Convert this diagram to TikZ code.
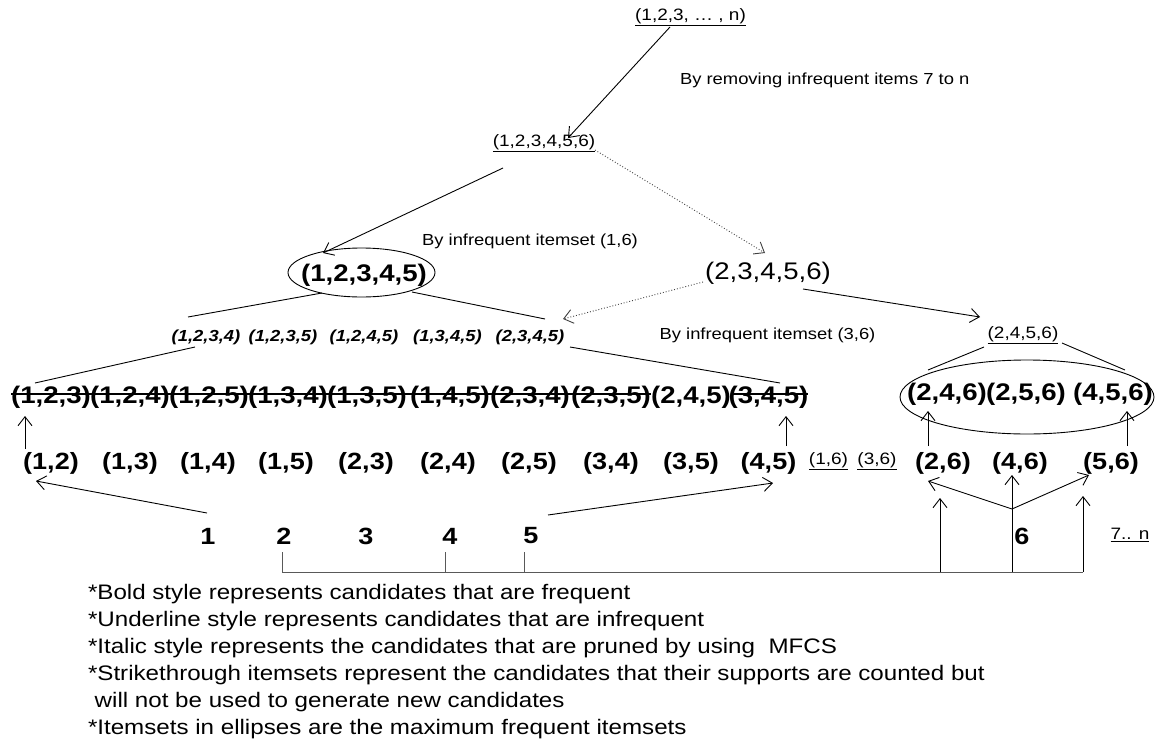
\documentclass[tikz,border=0pt]{standalone}
\usepackage{fontspec}
\setmainfont{Liberation Sans}[FakeStretch=1.15]
\usetikzlibrary{arrows.meta,calc,shapes.geometric}
\begin{document}
\begin{tikzpicture}[x=1pt,y=-1pt,
  every node/.style={inner sep=0pt,outer sep=0pt},
  big/.style={font=\fontsize{24}{28}\selectfont\bfseries},
  bigr/.style={font=\fontsize{24}{28}\selectfont},
  pair/.style={font=\fontsize{23.5}{28}\selectfont\bfseries},
  ital/.style={font=\fontsize{16}{20}\selectfont\bfseries\itshape},
  small/.style={font=\fontsize{16.5}{20}\selectfont},
  lbl/.style={font=\fontsize{16}{20}\selectfont},
  legend/.style={font=\fontsize{21}{24}\selectfont,anchor=west},
  conn/.style={line width=0.9pt},
  arr/.style={conn,-{Straight Barb[length=9pt,width=14pt]}},
  dotline/.style={line width=0.9pt,dotted,black!75},
  dotarr/.style={dotline,-{Straight Barb[length=9pt,width=14pt]}},
  strike/.style={line width=2pt},
  baseline/.style={line width=1pt,black!65},
  oval/.style={draw,ellipse,line width=0.9pt}
]
\useasboundingbox (0,0) rectangle (1163,742);

% top levels
\node[small] (topn) at (690.5,17) {\underline{(1,2,3, … , n)}};
\node[lbl,anchor=west] (rem) at (680,80) {By removing infrequent items 7 to n};
\node[small] (n6) at (544,143) {\underline{(1,2,3,4,5,6)}};
\node[oval,minimum width=147,minimum height=49] (e1) at (361.5,272.5) {};
\node[big] (n12345) at (364,275) {(1,2,3,4,5)};
\node[bigr] (n23456) at (768,273) {(2,3,4,5,6)};
\node[lbl] (lbl16) at (530,241) {By infrequent itemset (1,6)};
\node[lbl] (lbl36) at (767.5,335) {By infrequent itemset (3,6)};
\node[small] (n2456) at (1023,335) {\underline{(2,4,5,6)}};

% italic row
\node[ital] (i1234) at (206,337) {(1,2,3,4)};
\node[ital] (i1235) at (283,337) {(1,2,3,5)};
\node[ital] (i1245) at (364,337) {(1,2,4,5)};
\node[ital] (i1345) at (447.5,337) {(1,3,4,5)};
\node[ital] (i2345) at (530,337) {(2,3,4,5)};

% strikethrough row
\node[big] (s123) at (51,397) {(1,2,3)};
\node[big] (s124) at (130,397) {(1,2,4)};
\node[big] (s125) at (209,397) {(1,2,5)};
\node[big] (s134) at (288,397) {(1,3,4)};
\node[big] (s135) at (367,397) {(1,3,5)};
\node[big] (s145) at (450,397) {(1,4,5)};
\node[big] (s234) at (530,397) {(2,3,4)};
\node[big] (s235) at (611,397) {(2,3,5)};
\node[big] (s245) at (691,397) {(2,4,5)};
\node[big] (s345) at (768.5,397) {(3,4,5)};
\draw[strike] ($(s123.west)+(0,-3)$) -- ($(s235.east)+(0,-3)$);
\draw[strike] ($(s345.west)+(3,-3)$) -- ($(s345.east)+(0,-3)$);

% maximal ellipse right
\node[oval,minimum width=254,minimum height=74] (e2) at (1027,397) {};
\node[big] (t246) at (947,394) {(2,4,6)};
\node[big] (t256) at (1026,394) {(2,5,6)};
\node[big] (t456) at (1113,394) {(4,5,6)};

% pairs row
\node[pair] (p12) at (51,463) {(1,2)};
\node[pair] (p13) at (130,463) {(1,3)};
\node[pair] (p14) at (208,463) {(1,4)};
\node[pair] (p15) at (286,463) {(1,5)};
\node[pair] (p23) at (366,463) {(2,3)};
\node[pair] (p24) at (448,463) {(2,4)};
\node[pair] (p25) at (529,463) {(2,5)};
\node[pair] (p34) at (611,463) {(3,4)};
\node[pair] (p35) at (691,463) {(3,5)};
\node[pair] (p45) at (768.5,463) {(4,5)};
\node[small] (p16) at (828.5,461) {\underline{(1,6)}};
\node[small] (p36) at (877,461) {\underline{(3,6)}};
\node[pair] (p26) at (943,463) {(2,6)};
\node[pair] (p46) at (1020,463) {(4,6)};
\node[pair] (p56) at (1111,463) {(5,6)};

% single items
\node[pair] (d1) at (208,536) {1};
\node[pair] (d2) at (284,536) {2};
\node[pair] (d3) at (366,536) {3};
\node[pair] (d4) at (450,536) {4};
\node[pair] (d5) at (531,536) {5};
\node[pair] (d6) at (1022,536) {6};
\node[small] (d7) at (1130,535) {\underline{7.. n}};

% connectors top
\draw[arr] ($(topn)+(-20.5,10)$) -- ($(n6)+(24,-5)$);
\draw[arr] ($(n6)+(-41,25)$) -- ($(e1)+(-38.5,-19.5)$);
\draw[dotarr] ($(n6)+(51,7)$) -- ($(n23456)+(-3,-20)$);
\draw[dotarr] ($(n23456)+(-65,9)$) -- ($(i2345)+(33,-18)$);
\draw[arr] ($(n23456)+(35,16)$) -- ($(n2456)+(-43,-18)$);
\draw[conn] ($(e1)+(-39.5,20.5)$) -- ($(i1234)+(-18,-20)$);
\draw[conn] ($(e1)+(50.5,19.5)$) -- ($(i2345)+(15,-18)$);
\draw[conn] ($(i1234)+(-11,10)$) -- ($(s123)+(-16,-14)$);
\draw[conn] ($(i2345)+(40,10)$) -- ($(s345)+(11.5,-14)$);
\draw[conn] ($(n2456)+(-39,12)$) -- ($(e2)+(-99,-27)$);
\draw[conn] ($(n2456)+(39,8)$) -- ($(e2)+(98,-27)$);

% connectors pairs to triples
\draw[arr] ($(p12)+(-26,-14)$) -- ($(s123)+(-26,19)$);
\draw[arr] ($(p45)+(17.5,-17)$) -- ($(s345)+(17.5,19)$);
\draw[arr] ($(p26)+(-15,-17)$) -- ($(t246)+(-19,17)$);
\draw[arr] ($(p56)+(16,-17)$) -- ($(t456)+(14,17)$);

% items to pairs
\draw[arr] ($(d1)+(-1,-23)$) -- ($(p12)+(-15,18)$);
\draw[arr] ($(d5)+(17,-21)$) -- ($(p45)+(4.5,20)$);

% bracket
\coordinate (bL) at (282,572);
\coordinate (b4) at (445,572);
\coordinate (b5) at (524,572);
\coordinate (bA) at (940,572);
\coordinate (bB) at (1012,572);
\coordinate (bR) at (1083,572);
\coordinate (fork) at (1012,509);
\draw[baseline] ($(bL)+(0,-20)$) -- (bL) -- (bR);
\draw[baseline] ($(b4)+(0,-20)$) -- (b4);
\draw[baseline] ($(b5)+(0,-20)$) -- (b5);
\draw[arr] (bA) -- ($(p26)+(-3,35)$);
\draw[arr] (bB) -- ($(p46)+(-8,12)$);
\draw[arr] (bR) -- ($(p56)+(-28,33)$);
\draw[arr] (fork) -- ($(p26)+(-15,18)$);
\draw[arr] (fork) -- ($(p56)+(-22,12)$);

% legend
\node[legend] (L1) at (88,594) {*Bold style represents candidates that are frequent};
\node[legend] (L2) at (88,621) {*Underline style represents candidates that are infrequent};
\node[legend] (L3) at (88,648) {*Italic style represents the candidates that are pruned by using \ MFCS};
\node[legend] (L4) at (88,675) {*Strikethrough itemsets represent the candidates that their supports are counted but};
\node[legend] (L5) at (88,702) {\ will not be used to generate new candidates};
\node[legend] (L6) at (88,729) {*Itemsets in ellipses are the maximum frequent itemsets};
\end{tikzpicture}
\end{document}
